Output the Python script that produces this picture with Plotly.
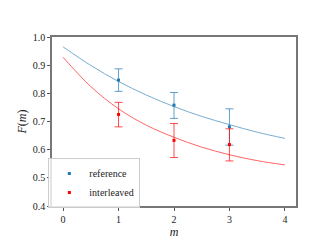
import plotly.graph_objects as go

# Data points (m, fidelity, error bar half-ranges)
m_points = [1, 2, 3]
ref_vals = [0.847, 0.758, 0.681]
ref_err_plus = [0.040, 0.045, 0.064]
ref_err_minus = [0.040, 0.047, 0.065]
int_vals = [0.725, 0.633, 0.618]
int_err_plus = [0.043, 0.060, 0.056]
int_err_minus = [0.044, 0.061, 0.058]

# Fit curves
curve_m = [0, 0.5, 1, 1.5, 2, 2.5, 3, 3.5, 4]
ref_curve = [0.965, 0.899, 0.842, 0.794, 0.753, 0.718, 0.689, 0.662, 0.640]
int_curve = [0.928, 0.824, 0.745, 0.687, 0.644, 0.609, 0.582, 0.561, 0.546]

x_ticks = [0, 1, 2, 3, 4]
y_ticks = [0.4, 0.5, 0.6, 0.7, 0.8, 0.9, 1.0]

blue = "#1f77b4"
red = "#ff0000"
font_family = "Liberation Serif"

fig = go.Figure()
fig.add_trace(go.Scatter(x=curve_m, y=ref_curve, mode="lines", line=dict(color=blue, width=1, shape="spline"),
                         opacity=0.6, showlegend=False, hoverinfo="skip"))
fig.add_trace(go.Scatter(x=curve_m, y=int_curve, mode="lines", line=dict(color=red, width=1, shape="spline"),
                         opacity=0.6, showlegend=False, hoverinfo="skip"))
fig.add_trace(go.Scatter(x=m_points, y=ref_vals, mode="markers", name="reference",
                         marker=dict(color=blue, size=3, symbol="square"),
                         error_y=dict(type="data", array=ref_err_plus, arrayminus=ref_err_minus,
                                      color="rgba(31,119,180,0.7)", thickness=1, width=4)))
fig.add_trace(go.Scatter(x=m_points, y=int_vals, mode="markers", name="interleaved",
                         marker=dict(color=red, size=3, symbol="square"),
                         error_y=dict(type="data", array=int_err_plus, arrayminus=int_err_minus,
                                      color="rgba(255,0,0,0.7)", thickness=1, width=4)))

axis_common = dict(showgrid=False, zeroline=False, showline=True, linecolor="#777", linewidth=1.5,
                   mirror=True, ticks="outside", ticklen=3, tickcolor="#555", tickwidth=1,
                   tickfont=dict(family=font_family, size=10, color="#222"))
fig.update_xaxes(range=[-0.2, 4.2], tickvals=x_ticks, ticktext=[str(t) for t in x_ticks],
                 title=dict(text="<i>m</i>", font=dict(family=font_family, size=12, color="#222"), standoff=3),
                 **axis_common)
fig.update_yaxes(range=[0.4, 1.0], tickvals=y_ticks, ticktext=[f"{t:.1f}" for t in y_ticks],
                 title=dict(text="<i>F</i>(<i>m</i>)", font=dict(family=font_family, size=12, color="#222"), standoff=4),
                 **axis_common)

fig.update_layout(width=320, height=240, margin=dict(l=40, r=32, t=29, b=27),
                  paper_bgcolor="white", plot_bgcolor="white",
                  legend=dict(x=-0.015, y=-0.012, xanchor="left", yanchor="bottom",
                              bgcolor="rgba(255,255,255,0.8)", bordercolor="#ccc", borderwidth=1,
                              font=dict(family=font_family, size=10, color="#222"),
                              itemwidth=30, tracegroupgap=0))

fig.write_html("out.html")
